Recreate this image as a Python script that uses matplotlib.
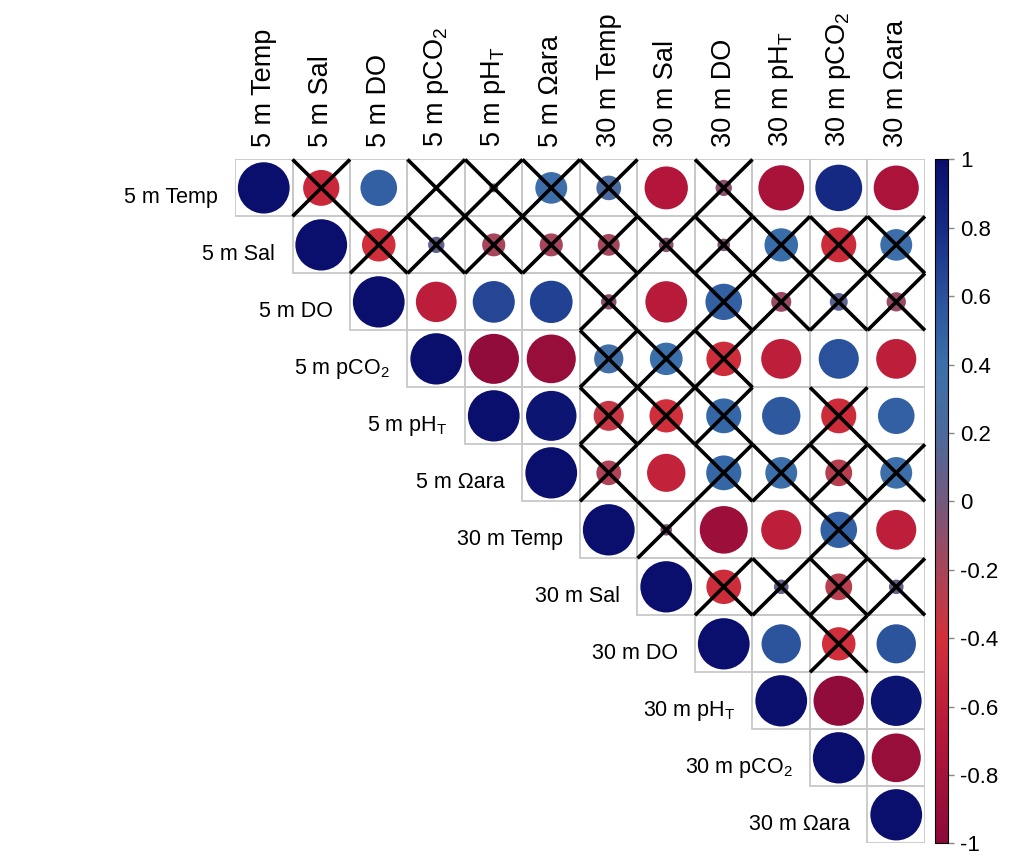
import numpy as np
import matplotlib
matplotlib.use("Agg")
import matplotlib.pyplot as plt
from matplotlib.colors import LinearSegmentedColormap, Normalize
from matplotlib.patches import Circle, Rectangle
from matplotlib.cm import ScalarMappable

plt.rcParams['font.family'] = ['Liberation Sans', 'DejaVu Sans']
plt.rcParams['mathtext.default'] = 'regular'

labels = ["5 m Temp", "5 m Sal", "5 m DO", "5 m pCO$_2$", "5 m pH$_T$", "5 m \u03a9ara",
          "30 m Temp", "30 m Sal", "30 m DO", "30 m pH$_T$", "30 m pCO$_2$", "30 m \u03a9ara"]

# upper triangle, each row starts at the diagonal
r_rows = [
    [1.00, -0.49, 0.50, 0.01, -0.03, 0.38, 0.23, -0.70, -0.10, -0.78, 0.82, -0.76],
    [1.00, -0.42, 0.10, -0.20, -0.20, -0.18, -0.08, -0.06, 0.42, -0.46, 0.38],
    [1.00, -0.62, 0.66, 0.68, -0.09, -0.65, 0.50, -0.15, 0.12, -0.14],
    [1.00, -0.95, -0.90, 0.32, 0.40, -0.45, -0.60, 0.60, -0.60],
    [1.00, 0.95, -0.34, -0.42, 0.46, 0.55, -0.46, 0.50],
    [1.00, -0.23, -0.55, 0.46, 0.38, -0.27, 0.38],
    [1.00, -0.05, -0.86, -0.60, 0.50, -0.60],
    [1.00, -0.45, 0.08, -0.27, 0.08],
    [1.00, 0.58, -0.42, 0.58],
    [1.00, -0.95, 0.96],
    [1.00, -0.90],
    [1.00],
]

# 1 = not significant (crossed out)
ns_rows = [
    [0, 1, 0, 1, 1, 1, 1, 0, 1, 0, 0, 0],
    [0, 1, 1, 1, 1, 1, 1, 1, 1, 1, 1],
    [0, 0, 0, 0, 1, 0, 1, 1, 1, 1],
    [0, 0, 0, 1, 1, 1, 0, 0, 0],
    [0, 0, 1, 1, 1, 0, 1, 0],
    [0, 1, 0, 1, 1, 1, 1],
    [0, 1, 0, 0, 1, 0],
    [0, 1, 1, 1, 1],
    [0, 0, 1, 0],
    [0, 0, 0],
    [0, 0],
    [0],
]

cbar_ticks = [1, 0.8, 0.6, 0.4, 0.2, 0, -0.2, -0.4, -0.6, -0.8, -1]
cbar_labels = ["1", "0.8", "0.6", "0.4", "0.2", "0", "-0.2", "-0.4", "-0.6", "-0.8", "-1"]

cmap = LinearSegmentedColormap.from_list("corr", [
    (0.00, "#8C0A3B"),
    (0.15, "#B3163A"),
    (0.30, "#D2303A"),
    (0.40, "#A8455A"),
    (0.50, "#74597E"),
    (0.60, "#4C6A9C"),
    (0.70, "#3A70AA"),
    (0.80, "#2A529C"),
    (0.90, "#162C86"),
    (1.00, "#0A0E6C"),
])
norm = Normalize(vmin=-1, vmax=1)

n = len(labels)
fig = plt.figure(figsize=(10.28, 8.57), dpi=100)
ax = fig.add_axes([0.2286, 0.016, 0.6712, 0.798])
ax.set_xlim(-0.5, n - 0.5)
ax.set_ylim(n - 0.5, -0.5)
ax.axis('off')

for i in range(n):
    for k, r in enumerate(r_rows[i]):
        j = i + k
        ax.add_patch(Rectangle((j - 0.5, i - 0.5), 1, 1, fill=False,
                               edgecolor="#C8C8C8", linewidth=1.3, zorder=1))
        ax.add_patch(Circle((j, i), 0.45 * np.sqrt(abs(r)),
                            facecolor=cmap(norm(r)), edgecolor='none', zorder=2))
        if ns_rows[i][k]:
            d = 0.5
            ax.plot([j - d, j + d], [i - d, i + d], color='black', lw=2.6,
                    zorder=3, clip_on=False, solid_capstyle='butt')
            ax.plot([j - d, j + d], [i + d, i - d], color='black', lw=2.6,
                    zorder=3, clip_on=False, solid_capstyle='butt')

# row labels sit left of the diagonal, column labels above the grid
for i, lab in enumerate(labels):
    ax.text(i - 0.8, i + 0.26, lab, ha='right', va='baseline', fontsize=15.5)
    ax.text(i, -0.71, lab, ha='center', va='bottom', rotation=90, fontsize=19.5)

cax = fig.add_axes([0.9095, 0.016, 0.0126, 0.798])
cb = fig.colorbar(ScalarMappable(norm=norm, cmap=cmap), cax=cax)
cb.set_ticks(cbar_ticks)
cb.set_ticklabels(cbar_labels, fontsize=16)
cb.outline.set_linewidth(0.8)
cax.tick_params(length=4, width=1, color="#888888", pad=5)

fig.savefig("out.png", dpi=100)
